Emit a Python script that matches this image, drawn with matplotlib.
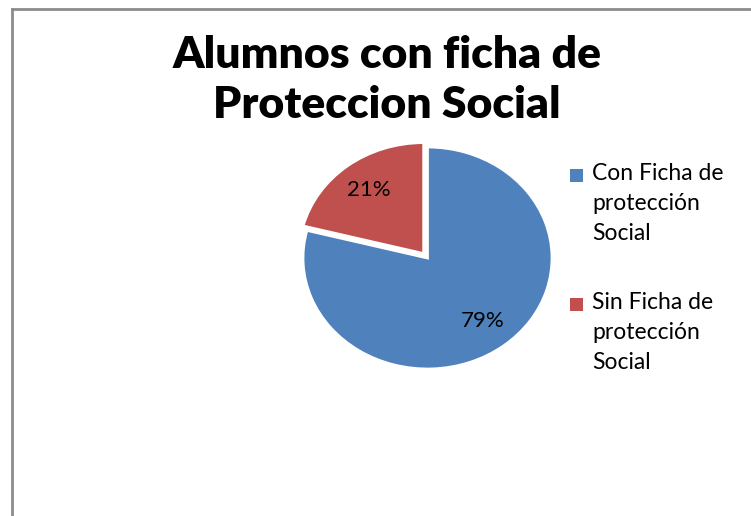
import matplotlib
matplotlib.use("Agg")
import matplotlib.pyplot as plt
from matplotlib.lines import Line2D
from matplotlib.patches import Rectangle

categories = ["Con Ficha de\nprotección\nSocial", "Sin Ficha de\nprotección\nSocial"]
values = [79, 21]
colors = ["#4F81BD", "#C0504D"]
title = "Alumnos con ficha de\nProteccion Social"

W, H = 751, 516
fig = plt.figure(figsize=(W / 100, H / 100), dpi=100)
fig.patch.set_facecolor("white")

def fx(px):
    return px / W

def fy(py):
    return 1 - py / H

# chart-area border (left and top edges visible)
fig.add_artist(Line2D([fx(12), fx(12)], [fy(9), 0], transform=fig.transFigure,
                      color="#8c8c8c", lw=2))
fig.add_artist(Line2D([fx(12), 1], [fy(9), fy(9)], transform=fig.transFigure,
                      color="#8c8c8c", lw=2))

# pie axes: radius 1 maps to 124.5 px horizontally and 111 px vertically
cx, cy, rx, ry = 427.5, 258, 124.5, 111
lim = 1.2
ax = fig.add_axes([fx(cx - rx * lim), fy(cy + ry * lim), 2 * rx * lim / W, 2 * ry * lim / H])
wedges, texts, autotexts = ax.pie(
    values, colors=colors, startangle=90, counterclock=False,
    explode=[0, 0.05], autopct="%1.0f%%", pctdistance=0.72,
    wedgeprops=dict(edgecolor="white", linewidth=2),
    textprops=dict(fontsize=16, color="black", family="Lato"))
ax.set_aspect("auto")
ax.set_xlim(-lim, lim)
ax.set_ylim(-lim, lim)
ax.axis("off")

fig.text(fx(387), fy(80), title, ha="center", va="center", fontsize=32,
         fontweight="heavy", family="Lato", linespacing=1.3)

# legend: square aligned with the first line of each label
first_base = [183, 312]  # baseline of first label line (px)
line_step = 28.5
for lab, col, by in zip(categories, colors, first_base):
    fig.add_artist(Rectangle((fx(570), fy(by - 1)), 13 / W, 13 / H,
                             transform=fig.transFigure, facecolor=col,
                             edgecolor="none"))
    nlines = lab.count("\n")
    fig.text(fx(592), fy(by + nlines * line_step), lab, ha="left", va="baseline",
             fontsize=16.5, family="Lato", linespacing=1.52)

fig.savefig("out.png", dpi=100)
